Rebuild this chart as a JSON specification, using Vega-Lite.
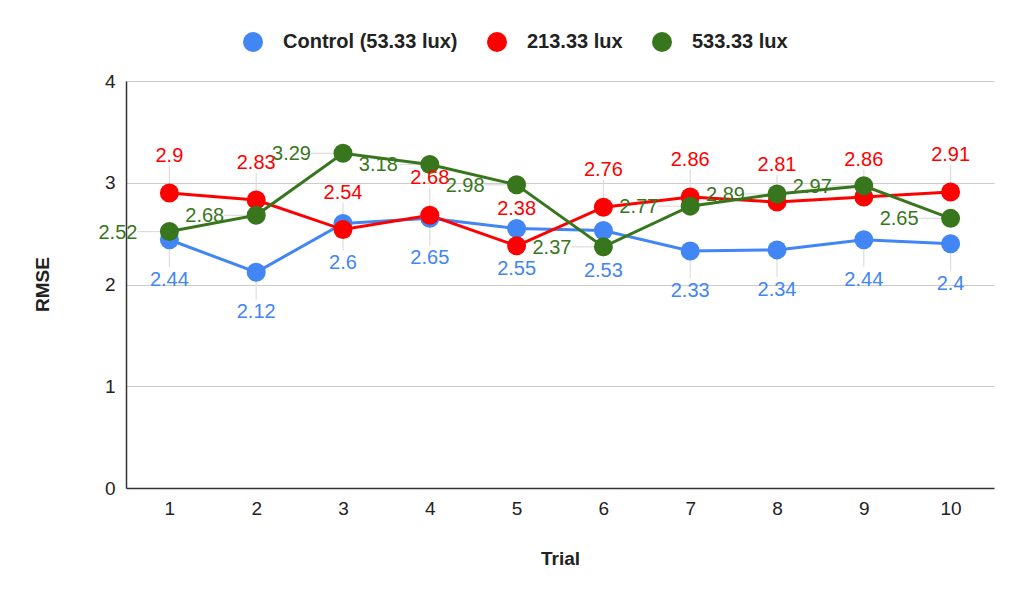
{
  "$schema": "https://vega.github.io/schema/vega-lite/v6.json",
  "width": 868,
  "height": 407,
  "autosize": "none",
  "padding": {"left": 126, "top": 81, "right": 30, "bottom": 112},
  "background": "white",
  "data": {
    "values": [
      {"trial": 1, "series": "Control (53.33 lux)", "rmse": 2.44},
      {"trial": 2, "series": "Control (53.33 lux)", "rmse": 2.12},
      {"trial": 3, "series": "Control (53.33 lux)", "rmse": 2.6},
      {"trial": 4, "series": "Control (53.33 lux)", "rmse": 2.65},
      {"trial": 5, "series": "Control (53.33 lux)", "rmse": 2.55},
      {"trial": 6, "series": "Control (53.33 lux)", "rmse": 2.53},
      {"trial": 7, "series": "Control (53.33 lux)", "rmse": 2.33},
      {"trial": 8, "series": "Control (53.33 lux)", "rmse": 2.34},
      {"trial": 9, "series": "Control (53.33 lux)", "rmse": 2.44},
      {"trial": 10, "series": "Control (53.33 lux)", "rmse": 2.4},
      {"trial": 1, "series": "213.33 lux", "rmse": 2.9},
      {"trial": 2, "series": "213.33 lux", "rmse": 2.83},
      {"trial": 3, "series": "213.33 lux", "rmse": 2.54},
      {"trial": 4, "series": "213.33 lux", "rmse": 2.68},
      {"trial": 5, "series": "213.33 lux", "rmse": 2.38},
      {"trial": 6, "series": "213.33 lux", "rmse": 2.76},
      {"trial": 7, "series": "213.33 lux", "rmse": 2.86},
      {"trial": 8, "series": "213.33 lux", "rmse": 2.81},
      {"trial": 9, "series": "213.33 lux", "rmse": 2.86},
      {"trial": 10, "series": "213.33 lux", "rmse": 2.91},
      {"trial": 1, "series": "533.33 lux", "rmse": 2.52},
      {"trial": 2, "series": "533.33 lux", "rmse": 2.68},
      {"trial": 3, "series": "533.33 lux", "rmse": 3.29},
      {"trial": 4, "series": "533.33 lux", "rmse": 3.18},
      {"trial": 5, "series": "533.33 lux", "rmse": 2.98},
      {"trial": 6, "series": "533.33 lux", "rmse": 2.37},
      {"trial": 7, "series": "533.33 lux", "rmse": 2.77},
      {"trial": 8, "series": "533.33 lux", "rmse": 2.89},
      {"trial": 9, "series": "533.33 lux", "rmse": 2.97},
      {"trial": 10, "series": "533.33 lux", "rmse": 2.65}
    ]
  },
  "encoding": {
    "x": {
      "field": "trial",
      "type": "ordinal",
      "scale": {"type": "point", "padding": 0.5},
      "axis": {
        "title": "Trial",
        "labelAngle": 0,
        "ticks": false,
        "grid": false,
        "domainColor": "#333333",
        "domainWidth": 1.5,
        "labelPadding": 11,
        "labelFont": "Liberation Sans",
        "labelFontSize": 19,
        "labelColor": "#222222",
        "titleFont": "Liberation Sans",
        "titleFontSize": 19,
        "titleFontWeight": "bold",
        "titleColor": "#222222",
        "titleY": 70,
        "titleBaseline": "middle"
      }
    },
    "y": {
      "field": "rmse",
      "type": "quantitative",
      "scale": {"domain": [0, 4], "nice": false},
      "axis": {
        "title": "RMSE",
        "values": [0, 1, 2, 3, 4],
        "ticks": false,
        "grid": true,
        "gridColor": "#cccccc",
        "gridWidth": 1,
        "domainColor": "#333333",
        "domainWidth": 1.5,
        "labelPadding": 11,
        "labelFont": "Liberation Sans",
        "labelFontSize": 19,
        "labelColor": "#222222",
        "titleFont": "Liberation Sans",
        "titleFontSize": 19,
        "titleFontWeight": "bold",
        "titleColor": "#222222",
        "titleAngle": -90,
        "titleX": -84,
        "titleY": 203,
        "titleAlign": "center",
        "titleBaseline": "middle"
      }
    }
  },
  "layer": [
    {
      "transform": [{"filter": "datum.series === 'Control (53.33 lux)'"}],
      "mark": {"type": "point", "shape": "M0,0.2L0,0.68", "filled": false, "size": 6400, "color": "#dddddd", "strokeWidth": 1.2, "opacity": 1}
    },
    {
      "transform": [{"filter": "datum.series === '213.33 lux'"}],
      "mark": {"type": "point", "shape": "M0,-0.2L0,-0.68", "filled": false, "size": 6400, "color": "#dddddd", "strokeWidth": 1.2, "opacity": 1}
    },
    {
      "transform": [{"filter": "datum.series === '533.33 lux'"}],
      "mark": {"type": "point", "shape": "M-0.2,0L-0.8,0", "filled": false, "size": 6400, "color": "#dddddd", "strokeWidth": 1.2, "opacity": 1}
    },
    {
      "mark": {"type": "line", "strokeWidth": 3},
      "encoding": {
        "color": {
          "field": "series",
          "type": "nominal",
          "scale": {
            "domain": ["Control (53.33 lux)", "213.33 lux", "533.33 lux"],
            "range": ["#4285F4", "#FF0000", "#38761D"]
          },
          "legend": {
            "title": null,
            "orient": "none",
            "direction": "horizontal",
            "legendX": 117,
            "legendY": -49,
            "padding": 0,
            "symbolType": "circle",
            "symbolSize": 400,
            "symbolStrokeWidth": 0,
            "symbolFillColor": "#000000",
            "labelFont": "Liberation Sans",
            "labelFontSize": 20,
            "labelFontWeight": "bold",
            "labelColor": "#222222",
            "labelLimit": 400,
            "labelOffset": 20,
            "columnPadding": 29
          }
        }
      }
    },
    {
      "mark": {"type": "circle", "size": 361, "opacity": 1},
      "encoding": {
        "color": {
          "field": "series",
          "type": "nominal",
          "scale": {
            "domain": ["Control (53.33 lux)", "213.33 lux", "533.33 lux"],
            "range": ["#4285F4", "#FF0000", "#38761D"]
          }
        }
      }
    },
    {
      "transform": [{"filter": "datum.series === 'Control (53.33 lux)'"}],
      "mark": {"type": "text", "dy": 40, "align": "center", "baseline": "middle", "font": "Liberation Sans", "fontSize": 20, "color": "#4285F4"},
      "encoding": {
        "text": {"field": "rmse", "type": "quantitative"}
      }
    },
    {
      "transform": [{"filter": "datum.series === '213.33 lux'"}],
      "mark": {"type": "text", "dy": -37, "align": "center", "baseline": "middle", "font": "Liberation Sans", "fontSize": 20, "color": "#FF0000"},
      "encoding": {
        "text": {"field": "rmse", "type": "quantitative"}
      }
    },
    {
      "transform": [{"filter": "datum.series === '533.33 lux'"}],
      "mark": {"type": "text", "dx": -32, "dy": 1, "align": "right", "baseline": "middle", "font": "Liberation Sans", "fontSize": 20, "color": "#38761D"},
      "encoding": {
        "text": {"field": "rmse", "type": "quantitative"}
      }
    }
  ],
  "config": {
    "view": {"stroke": null}
  }
}
